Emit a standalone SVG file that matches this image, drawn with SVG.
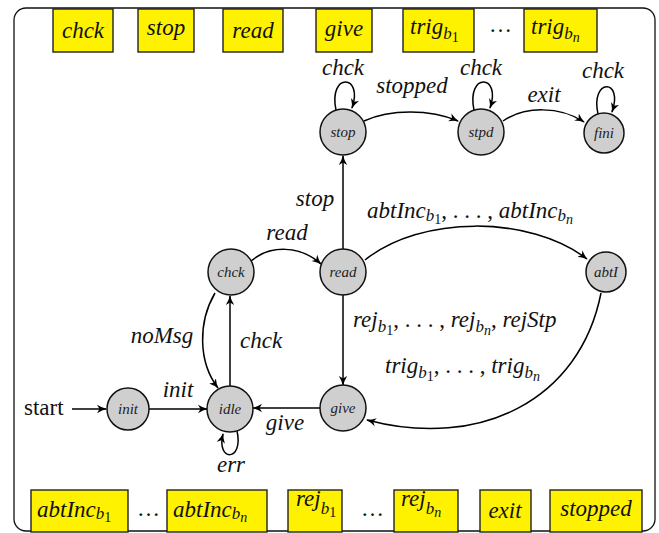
<svg xmlns="http://www.w3.org/2000/svg" width="659" height="533" viewBox="0 0 659 533">
<defs>
<marker id="ah" viewBox="0 0 10 10" refX="9" refY="5" markerWidth="10" markerHeight="10" markerUnits="userSpaceOnUse" orient="auto">
<path d="M0,0.8 Q5,4 10,5 Q5,6 0,9.2 L2.5,5 Z" fill="#000"/>
</marker>
<style>
.frame{fill:#fff;stroke:#111;stroke-width:1.3}
.box{fill:#fff200;stroke:#222;stroke-width:1.4}
.st{fill:#cfcfcf;stroke:#111;stroke-width:1.5}
.sl{font-family:"Liberation Serif","DejaVu Serif",serif;font-style:italic;font-size:15px;fill:#222;text-anchor:middle}
.lb{font-family:"Liberation Serif","DejaVu Serif",serif;font-style:italic;font-size:23px;fill:#111}
.mid{text-anchor:middle}
.sb{font-size:17px}
.ss{font-size:14px;font-style:normal}
.sn{font-size:14px}
.up{font-style:normal}
.e{fill:none;stroke:#000;stroke-width:1.5;marker-end:url(#ah)}
</style>
</defs>
<rect class="frame" x="14" y="8" width="641" height="523" rx="12"/>

<g id="top-boxes">
<g id="box-chck"><rect class="box" x="53" y="9" width="60" height="43"/><text class="lb mid" x="83" y="38">chck</text></g>
<g id="box-stop"><rect class="box" x="138" y="9" width="56" height="43"/><text class="lb mid" x="166" y="35">stop</text></g>
<g id="box-read"><rect class="box" x="223" y="9" width="60" height="43"/><text class="lb mid" x="253" y="38">read</text></g>
<g id="box-give"><rect class="box" x="316" y="9" width="56" height="43"/><text class="lb mid" x="344" y="36">give</text></g>
<g id="box-trig1"><rect class="box" x="403" y="9" width="71" height="43"/><text class="lb" x="410" y="34">trig<tspan class="sb" dy="5">b</tspan><tspan class="ss" dy="3">1</tspan></text></g>
<text class="lb up" x="489" y="32">…</text>
<g id="box-trign"><rect class="box" x="524" y="9" width="73" height="43"/><text class="lb" x="531" y="34">trig<tspan class="sb" dy="5">b</tspan><tspan class="sn" dy="3">n</tspan></text></g>
</g>

<g id="bottom-boxes">
<g id="box-abt1"><rect class="box" x="31" y="490" width="97" height="42"/><text class="lb" x="37" y="517">abtInc<tspan class="sb" dy="2">b</tspan><tspan class="ss" dy="3">1</tspan></text></g>
<text class="lb up" x="137" y="516">…</text>
<g id="box-abtn"><rect class="box" x="167" y="490" width="100" height="42"/><text class="lb" x="173" y="517">abtInc<tspan class="sb" dy="2">b</tspan><tspan class="sn" dy="3">n</tspan></text></g>
<g id="box-rej1"><rect class="box" x="288" y="490" width="54" height="42"/><text class="lb" x="296" y="506">rej<tspan class="sb" dy="8">b</tspan><tspan class="ss" dy="3">1</tspan></text></g>
<text class="lb up" x="361" y="516">…</text>
<g id="box-rejn"><rect class="box" x="394" y="490" width="64" height="42"/><text class="lb" x="401" y="506">rej<tspan class="sb" dy="8">b</tspan><tspan class="sn" dy="3">n</tspan></text></g>
<g id="box-exit"><rect class="box" x="480" y="490" width="51" height="42"/><text class="lb mid" x="505" y="518">exit</text></g>
<g id="box-stopped"><rect class="box" x="550" y="490" width="92" height="42"/><text class="lb mid" x="596" y="516">stopped</text></g>
</g>

<g id="connectors">
<path class="e" d="M72,409 L106,409"/>
<path class="e" d="M149,409 L207,409"/>
<path class="e" d="M320,408 L253,408"/>
<path class="e" d="M230,386 L230,296"/>
<path class="e" d="M215,293 C198,322 198,362 218,388"/>
<path class="e" d="M237,431 C244,462 216,462 223,434"/>
<path class="e" d="M251,261 C270,245 300,245 321,264"/>
<path class="e" d="M343,249 L343,156"/>
<path class="e" d="M343,295 L343,385"/>
<path class="e" d="M365,260 C420,215 530,215 587,259"/>
<path class="e" d="M601,293 C580,400 480,450 367,420"/>
<path class="e" d="M336,110 C328,72 364,74 352,108"/>
<path class="e" d="M474,110 C466,72 502,74 490,108"/>
<path class="e" d="M598,114 C590,78 624,78 612,112"/>
<path class="e" d="M364,121 C390,109 430,109 458,121"/>
<path class="e" d="M503,121 C525,106 560,106 584,122"/>
</g>

<g id="edge-labels">
<text class="lb up" x="24" y="415">start</text>
<text class="lb mid" x="178" y="397">init</text>
<text class="lb mid" x="285" y="430">give</text>
<text class="lb mid" x="231" y="472">err</text>
<text class="lb" x="240" y="348">chck</text>
<text class="lb mid" x="162" y="343">noMsg</text>
<text class="lb mid" x="287" y="240">read</text>
<text class="lb mid" x="315" y="206">stop</text>
<text class="lb mid" x="343" y="75">chck</text>
<text class="lb mid" x="412" y="93">stopped</text>
<text class="lb mid" x="481" y="75">chck</text>
<text class="lb mid" x="544" y="102">exit</text>
<text class="lb mid" x="603" y="78">chck</text>
<text class="lb" x="367" y="218">abtInc<tspan class="sb" dy="3">b</tspan><tspan class="ss" dy="3">1</tspan><tspan class="up" dy="-6">, . . . , </tspan>abtInc<tspan class="sb" dy="3">b</tspan><tspan class="sn" dy="3">n</tspan></text>
<text class="lb" x="353" y="327">rej<tspan class="sb" dy="5">b</tspan><tspan class="ss" dy="3">1</tspan><tspan class="up" dy="-8">, . . . , </tspan>rej<tspan class="sb" dy="5">b</tspan><tspan class="sn" dy="3">n</tspan><tspan class="up" dy="-8">, </tspan>rejStp</text>
<text class="lb" x="385" y="373">trig<tspan class="sb" dy="5">b</tspan><tspan class="ss" dy="3">1</tspan><tspan class="up" dy="-8">, . . . , </tspan>trig<tspan class="sb" dy="5">b</tspan><tspan class="sn" dy="3">n</tspan></text>
</g>

<g id="node-init"><circle class="st" cx="128" cy="409" r="21"/><text class="sl" x="128" y="414">init</text></g>
<g id="node-idle"><circle class="st" cx="230" cy="409" r="23"/><text class="sl" x="230" y="414">idle</text></g>
<g id="node-give"><circle class="st" cx="343" cy="408" r="23"/><text class="sl" x="343" y="413">give</text></g>
<g id="node-chck"><circle class="st" cx="231" cy="272" r="23"/><text class="sl" x="231" y="277">chck</text></g>
<g id="node-read"><circle class="st" cx="343" cy="272" r="23"/><text class="sl" x="343" y="277">read</text></g>
<g id="node-abtI"><circle class="st" cx="606" cy="272" r="20"/><text class="sl" x="606" y="277">abtI</text></g>
<g id="node-stop"><circle class="st" cx="343" cy="132" r="23"/><text class="sl" x="343" y="137">stop</text></g>
<g id="node-stpd"><circle class="st" cx="481" cy="132" r="23"/><text class="sl" x="481" y="137">stpd</text></g>
<g id="node-fini"><circle class="st" cx="604" cy="133" r="20"/><text class="sl" x="604" y="138">fini</text></g>
</svg>
